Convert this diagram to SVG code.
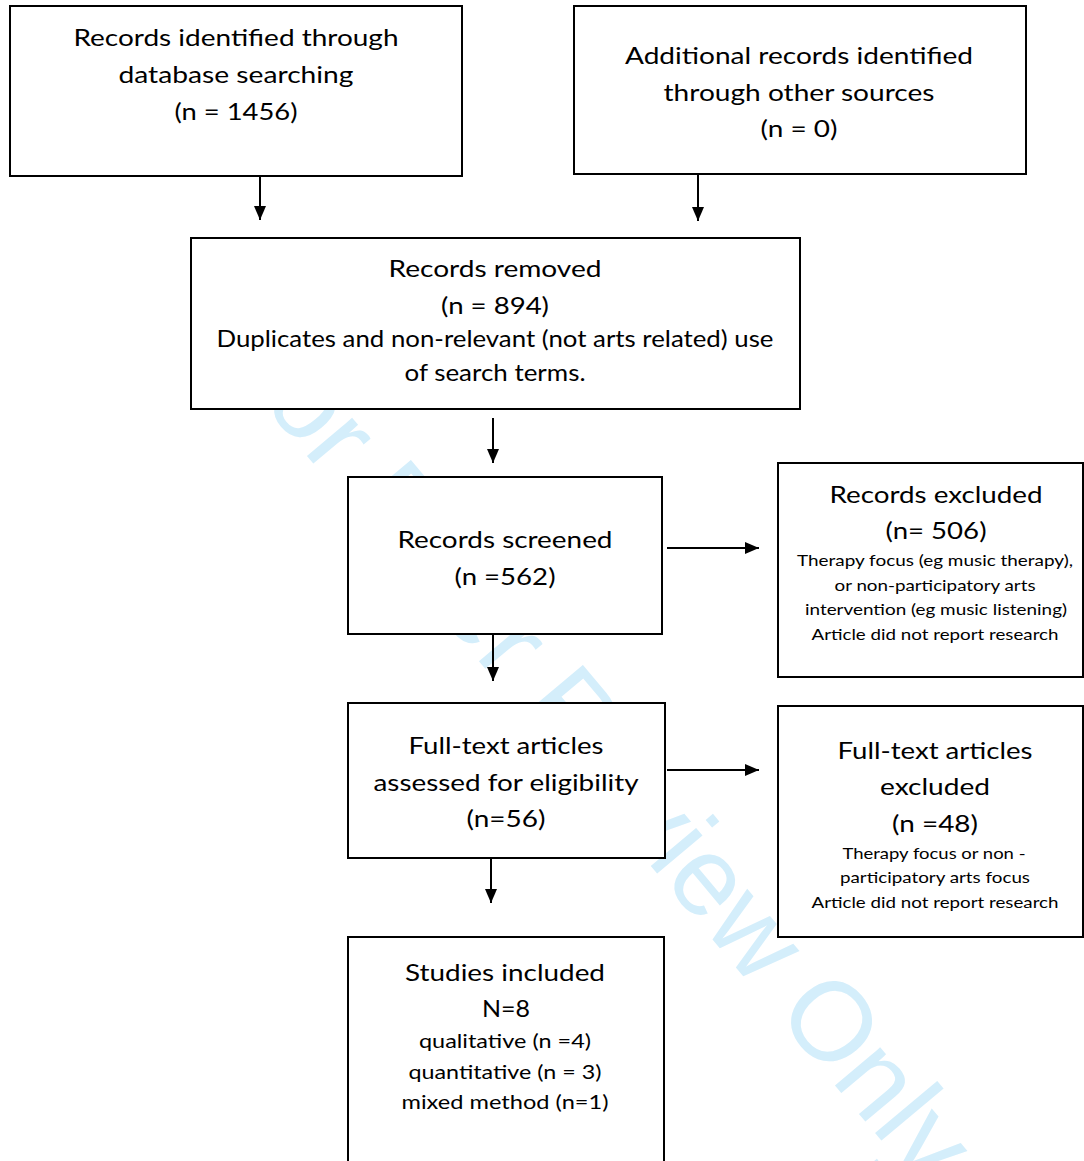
<svg xmlns="http://www.w3.org/2000/svg" width="1084" height="1161" viewBox="0 0 1084 1161">
<style>
.box{fill:#fff;stroke:#000;stroke-width:2}
.t{font-family:Lato,"Open Sans","Liberation Sans",sans-serif;fill:#000;text-anchor:middle}
.m{font-size:24px}
.s{font-size:16px}
.q{font-size:20px}
.wm{font-family:"Liberation Sans",Arial,sans-serif;font-size:112px;fill:#d4eefb}
.c{stroke:#000;stroke-width:2;fill:none;marker-end:url(#ah)}
</style>
<defs>
<marker id="ah" markerUnits="userSpaceOnUse" markerWidth="14" markerHeight="14" viewBox="0 0 14 12" refX="14" refY="6" orient="auto">
<path d="M0,0 L14,6 L0,12 Z" fill="#000"/>
</marker>
</defs>
<rect width="1084" height="1161" fill="#fff"/>
<text class="wm" x="218" y="350" transform="rotate(50 218 350)">For Peer Review Only</text>
<g id="connectors">
<line class="c" x1="260" y1="177" x2="260" y2="220"/>
<line class="c" x1="698" y1="175" x2="698" y2="221"/>
<line class="c" x1="493" y1="418" x2="493" y2="463"/>
<line class="c" x1="667" y1="548" x2="759" y2="548"/>
<line class="c" x1="493" y1="635" x2="493" y2="681"/>
<line class="c" x1="667" y1="770" x2="759" y2="770"/>
<line class="c" x1="491" y1="859" x2="491" y2="903"/>
</g>
<g id="n1">
<rect class="box" x="10" y="6" width="452" height="170"/>
<text class="t m" x="236" y="46" textLength="325" lengthAdjust="spacingAndGlyphs">Records identified through</text>
<text class="t m" x="236" y="83" textLength="235" lengthAdjust="spacingAndGlyphs">database searching</text>
<text class="t m" x="236" y="120" textLength="123" lengthAdjust="spacingAndGlyphs">(n = 1456)</text>
</g>
<g id="n2">
<rect class="box" x="574" y="6" width="452" height="168"/>
<text class="t m" x="799" y="64" textLength="348" lengthAdjust="spacingAndGlyphs">Additional records identified</text>
<text class="t m" x="799" y="101" textLength="271" lengthAdjust="spacingAndGlyphs">through other sources</text>
<text class="t m" x="799" y="137" textLength="77" lengthAdjust="spacingAndGlyphs">(n = 0)</text>
</g>
<g id="n3">
<rect class="box" x="191" y="238" width="609" height="171"/>
<text class="t m" x="495" y="277" textLength="213" lengthAdjust="spacingAndGlyphs">Records removed</text>
<text class="t m" x="495" y="314" textLength="108" lengthAdjust="spacingAndGlyphs">(n = 894)</text>
<text class="t m" x="495" y="347" textLength="557" lengthAdjust="spacingAndGlyphs">Duplicates and non-relevant (not arts related) use</text>
<text class="t m" x="495" y="381" textLength="181" lengthAdjust="spacingAndGlyphs">of search terms.</text>
</g>
<g id="n4">
<rect class="box" x="348" y="477" width="314" height="157"/>
<text class="t m" x="505" y="548" textLength="215" lengthAdjust="spacingAndGlyphs">Records screened</text>
<text class="t m" x="505" y="585" textLength="101" lengthAdjust="spacingAndGlyphs">(n =562)</text>
</g>
<g id="n5">
<rect class="box" x="778" y="463" width="305" height="214"/>
<text class="t m" x="936" y="503" textLength="213" lengthAdjust="spacingAndGlyphs">Records excluded</text>
<text class="t m" x="936" y="539" textLength="101" lengthAdjust="spacingAndGlyphs">(n= 506)</text>
<text class="t s" x="935" y="566" textLength="276" lengthAdjust="spacingAndGlyphs">Therapy focus (eg music therapy),</text>
<text class="t s" x="935" y="591" textLength="201" lengthAdjust="spacingAndGlyphs">or non-participatory arts</text>
<text class="t s" x="936" y="615" textLength="262" lengthAdjust="spacingAndGlyphs">intervention (eg music listening)</text>
<text class="t s" x="935" y="640" textLength="247" lengthAdjust="spacingAndGlyphs">Article did not report research</text>
</g>
<g id="n6">
<rect class="box" x="348" y="703" width="317" height="155"/>
<text class="t m" x="506" y="754" textLength="195" lengthAdjust="spacingAndGlyphs">Full-text articles</text>
<text class="t m" x="506" y="791" textLength="265" lengthAdjust="spacingAndGlyphs">assessed for eligibility</text>
<text class="t m" x="506" y="827" textLength="79" lengthAdjust="spacingAndGlyphs">(n=56)</text>
</g>
<g id="n7">
<rect class="box" x="778" y="706" width="305" height="231"/>
<text class="t m" x="935" y="759" textLength="195" lengthAdjust="spacingAndGlyphs">Full-text articles</text>
<text class="t m" x="935" y="795" textLength="110" lengthAdjust="spacingAndGlyphs">excluded</text>
<text class="t m" x="935" y="832" textLength="86" lengthAdjust="spacingAndGlyphs">(n =48)</text>
<text class="t s" x="934" y="859" textLength="183" lengthAdjust="spacingAndGlyphs">Therapy focus or non -</text>
<text class="t s" x="935" y="883" textLength="190" lengthAdjust="spacingAndGlyphs">participatory arts focus</text>
<text class="t s" x="935" y="908" textLength="247" lengthAdjust="spacingAndGlyphs">Article did not report research</text>
</g>
<g id="n8">
<rect class="box" x="348" y="937" width="316" height="240"/>
<text class="t m" x="505" y="981" textLength="200" lengthAdjust="spacingAndGlyphs">Studies included</text>
<text class="t m" x="506" y="1017" textLength="48" lengthAdjust="spacingAndGlyphs">N=8</text>
<text class="t q" x="505" y="1048" textLength="172" lengthAdjust="spacingAndGlyphs">qualitative (n =4)</text>
<text class="t q" x="505" y="1079" textLength="193" lengthAdjust="spacingAndGlyphs">quantitative (n = 3)</text>
<text class="t q" x="505" y="1109" textLength="207" lengthAdjust="spacingAndGlyphs">mixed method (n=1)</text>
</g>
</svg>
